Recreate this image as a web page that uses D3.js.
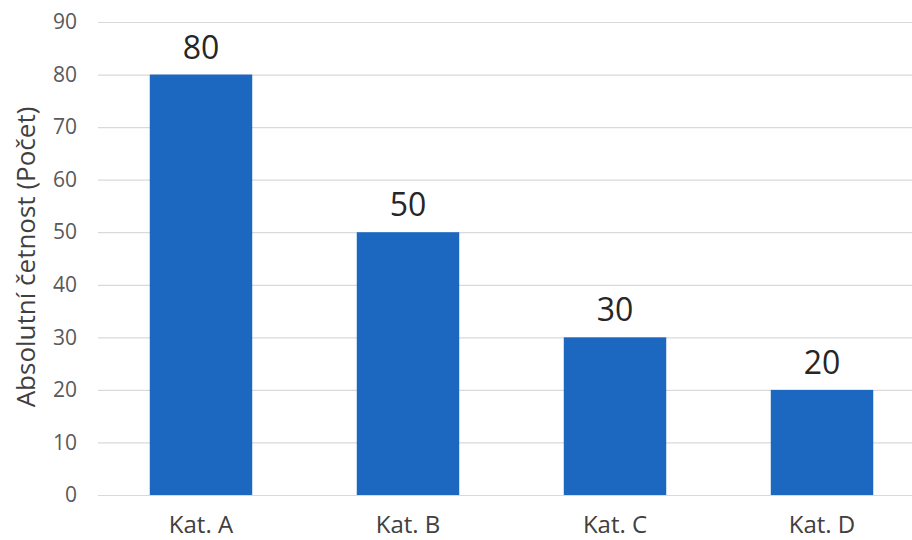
<!DOCTYPE html>
<html>
<head>
<meta charset="utf-8">
<script src="https://cdn.jsdelivr.net/npm/d3@7"></script>
<style>
  html, body { margin: 0; padding: 0; background: #ffffff; }
  svg { display: block; font-family: "Open Sans", "Noto Sans", sans-serif; }
</style>
</head>
<body>
<svg id="chart" width="912" height="540"></svg>
<script>
// Category names and their absolute frequencies
const categories = ["Kat. A", "Kat. B", "Kat. C", "Kat. D"];
const counts = [80, 50, 30, 20];
const yTicks = [0, 10, 20, 30, 40, 50, 60, 70, 80, 90];
const yTitle = "Absolutní četnost (Počet)";

const width = 912, height = 540;
const plot = { left: 98, right: 925, top: 22, bottom: 495 };

const svg = d3.select("#chart");

const x = d3.scaleBand()
  .domain(categories)
  .range([plot.left, plot.right])
  .paddingInner(0.505)
  .paddingOuter(0.25);

const y = d3.scaleLinear()
  .domain([0, 90])
  .range([plot.bottom, plot.top]);

// Horizontal gridlines with tick labels
const yAxis = d3.axisLeft(y)
  .tickValues(yTicks)
  .tickSize(-(width - plot.left))
  .tickPadding(21);

const gy = svg.append("g")
  .attr("transform", `translate(${plot.left},0)`)
  .call(yAxis);
gy.select(".domain").remove();
gy.selectAll(".tick line")
  .attr("stroke", "#d9d9d9")
  .attr("stroke-width", 1.2);
gy.selectAll(".tick text")
  .attr("fill", "#595959")
  .attr("font-size", 21)
  .attr("font-family", "Open Sans, sans-serif");

// Bars
svg.append("g")
  .selectAll("rect")
  .data(categories)
  .join("rect")
  .attr("x", d => x(d))
  .attr("y", (d, i) => y(counts[i]))
  .attr("width", x.bandwidth())
  .attr("height", (d, i) => y(0) - y(counts[i]))
  .attr("fill", "#1c68c0");

// Value labels above bars
svg.append("g")
  .selectAll("text")
  .data(categories)
  .join("text")
  .attr("x", d => x(d) + x.bandwidth() / 2)
  .attr("y", (d, i) => y(counts[i]) - 16)
  .attr("text-anchor", "middle")
  .attr("font-size", 32)
  .attr("fill", "#262626")
  .text((d, i) => counts[i]);

// Category labels
const xAxis = d3.axisBottom(x).tickSize(0).tickPadding(0);
const gx = svg.append("g")
  .attr("transform", `translate(0,${plot.bottom})`)
  .call(xAxis);
gx.select(".domain").remove();
gx.selectAll(".tick text")
  .attr("dy", null)
  .attr("y", 38)
  .attr("fill", "#404040")
  .attr("font-size", 24)
  .attr("font-family", "Open Sans, sans-serif");

// Y axis title
svg.append("text")
  .attr("transform", `translate(35,257) rotate(-90)`)
  .attr("text-anchor", "middle")
  .attr("font-size", 26)
  .attr("fill", "#404040")
  .text(yTitle);
</script>
</body>
</html>
